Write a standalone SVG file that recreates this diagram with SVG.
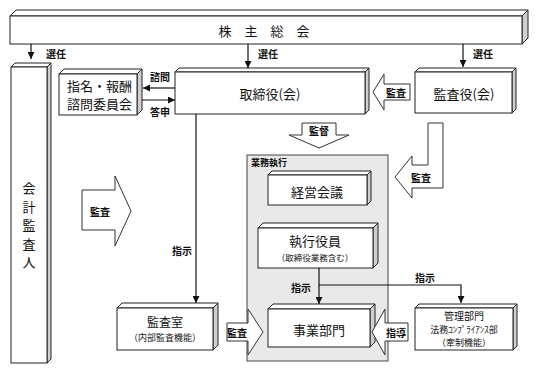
<svg xmlns="http://www.w3.org/2000/svg" width="547" height="372" viewBox="0 0 547 372">
<defs>
<style>
text{font-family:"Noto Sans CJK JP","Noto Sans",sans-serif;fill:#111;}
.t13{font-size:13px;}
.t12{font-size:12px;}
.t9{font-size:9px;}
.lab{font-size:10px;font-weight:bold;}
.front{fill:#fff;stroke:#222;stroke-width:1;}
.top{fill:#fff;stroke:#222;stroke-width:1;stroke-linejoin:round;}
.side{fill:#cfcfcf;stroke:#222;stroke-width:1;stroke-linejoin:round;}
.ln{fill:none;stroke:#111;stroke-width:1.2;}
.blk{fill:#fff;stroke:#333;stroke-width:1;stroke-linejoin:miter;}
.grp{fill:#e9e9e9;stroke:#444;stroke-width:1;}
</style>
<marker id="ah" viewBox="0 0 10 10" refX="10" refY="5" markerWidth="7" markerHeight="7" markerUnits="userSpaceOnUse" orient="auto">
<path d="M0,0 L10,5 L0,10 Z" fill="#111"/>
</marker>
</defs>

<g id="gyomu-shikko">
<rect class="grp" x="247" y="155" width="141" height="206"/>
<text class="lab" x="251" y="162" dominant-baseline="central" style="font-size:9px">業務執行</text>
</g>

<g id="kabunushi-sokai">
<path class="top" d="M10,16 L16,10 L528,10 L522,16 Z"/>
<path class="side" d="M522,16 L528,10 L528,38 L522,44 Z"/>
<rect class="front" x="10" y="16" width="512" height="28"/>
<text class="t13" y="30" dominant-baseline="central" text-anchor="middle"><tspan x="225">株</tspan><tspan x="251">主</tspan><tspan x="277">総</tspan><tspan x="303">会</tspan></text>
</g>

<g id="kaikei-kansanin">
<path class="top" d="M11,67 L15,63 L51,63 L47,67 Z"/>
<path class="side" d="M47,67 L51,63 L51,359 L47,363 Z"/>
<rect class="front" x="11" y="67" width="36" height="296"/>
<text class="t13" text-anchor="middle" dominant-baseline="central"><tspan x="29" y="187">会</tspan><tspan x="29" y="205.5">計</tspan><tspan x="29" y="224">監</tspan><tspan x="29" y="242.5">査</tspan><tspan x="29" y="261">人</tspan></text>
</g>

<g id="iinkai">
<path class="top" d="M59,74 L64,69 L142,69 L137,74 Z"/>
<path class="side" d="M137,74 L142,69 L142,110 L137,115 Z"/>
<rect class="front" x="59" y="74" width="78" height="41"/>
<text class="t13" x="67" y="85.5" dominant-baseline="central">指名・報酬</text>
<text class="t13" x="67" y="103.5" dominant-baseline="central">諮問委員会</text>
</g>

<g id="torishimariyaku">
<path class="top" d="M175,72 L179,68 L369,68 L365,72 Z"/>
<path class="side" d="M365,72 L369,68 L369,110 L365,114 Z"/>
<rect class="front" x="175" y="72" width="190" height="42"/>
<text class="t13" x="270" y="93" text-anchor="middle" dominant-baseline="central">取締役(会)</text>
</g>

<g id="kansayaku">
<path class="top" d="M415,72 L419,68 L516,68 L512,72 Z"/>
<path class="side" d="M512,72 L516,68 L516,109 L512,113 Z"/>
<rect class="front" x="415" y="72" width="97" height="41"/>
<text class="t13" x="464" y="93" text-anchor="middle" dominant-baseline="central">監査役(会)</text>
</g>

<g id="keiei-kaigi">
<path class="top" d="M268,175 L272,171 L371,171 L367,175 Z"/>
<path class="side" d="M367,175 L371,171 L371,201 L367,205 Z"/>
<rect class="front" x="268" y="175" width="99" height="30"/>
<text class="t13" x="317" y="191" text-anchor="middle" dominant-baseline="central">経営会議</text>
</g>

<g id="shikko-yakuin">
<path class="top" d="M258,228 L263,223 L378,223 L373,228 Z"/>
<path class="side" d="M373,228 L378,223 L378,263 L373,268 Z"/>
<rect class="front" x="258" y="228" width="115" height="40"/>
<text class="t13" x="315" y="240.5" text-anchor="middle" dominant-baseline="central">執行役員</text>
<text x="315" y="256.5" text-anchor="middle" dominant-baseline="central" style="font-size:8.5px">（取締役業務含む）</text>
</g>

<g id="jigyo-bumon">
<path class="top" d="M268,309 L273,304 L375,304 L370,309 Z"/>
<path class="side" d="M370,309 L375,304 L375,342 L370,347 Z"/>
<rect class="front" x="268" y="309" width="102" height="38"/>
<text class="t13" x="319" y="329" text-anchor="middle" dominant-baseline="central">事業部門</text>
</g>

<g id="kanri-bumon">
<path class="top" d="M415,308 L419,304 L517,304 L513,308 Z"/>
<path class="side" d="M513,308 L517,304 L517,346 L513,350 Z"/>
<rect class="front" x="415" y="308" width="98" height="42"/>
<text x="464" y="315.5" text-anchor="middle" dominant-baseline="central" style="font-size:10px">管理部門</text>
<text x="464" y="329" text-anchor="middle" dominant-baseline="central" style="font-size:9px">法務ｺﾝﾌﾟﾗｲｱﾝｽ部</text>
<text x="464" y="342" text-anchor="middle" dominant-baseline="central" style="font-size:9px">（牽制機能）</text>
</g>

<g id="kansashitsu">
<path class="top" d="M117,308 L122,303 L218,303 L213,308 Z"/>
<path class="side" d="M213,308 L218,303 L218,345 L213,350 Z"/>
<rect class="front" x="117" y="308" width="96" height="42"/>
<text class="t12" x="165" y="321" text-anchor="middle" dominant-baseline="central">監査室</text>
<text class="t9" x="165" y="337" text-anchor="middle" dominant-baseline="central">（内部監査機能）</text>
</g>

<g id="connectors">
<line class="ln" x1="31" y1="44" x2="31" y2="59" marker-end="url(#ah)"/>
<line class="ln" x1="248" y1="44" x2="248" y2="68" marker-end="url(#ah)"/>
<line class="ln" x1="463" y1="44" x2="463" y2="67" marker-end="url(#ah)"/>
<line class="ln" x1="175" y1="88" x2="143" y2="88" marker-end="url(#ah)"/>
<line class="ln" x1="142" y1="100" x2="175" y2="100" marker-end="url(#ah)"/>
<line class="ln" x1="196" y1="114" x2="196" y2="303" marker-end="url(#ah)"/>
<line class="ln" x1="319" y1="268" x2="319" y2="304" marker-end="url(#ah)"/>
<polyline class="ln" points="319,285 461,285 461,303" marker-end="url(#ah)"/>

<path class="blk" d="M373,92 L384,74 L384,84 L410,84 L410,100 L384,100 L384,110 Z"/>
<path class="blk" d="M302,123 L336,123 L336,135 L349,135 L319,148 L289,135 L302,135 Z"/>
<path class="blk" d="M428,123 L443,123 L443,188 L412,188 L412,198 L395,177 L412,156 L412,165 L428,165 Z"/>
<path class="blk" d="M82,190 L115,190 L115,176 L131,211 L115,246 L115,230 L82,230 Z"/>
<path class="blk" d="M227,323 L248,323 L248,309 L263,332 L248,355 L248,341 L227,341 Z"/>
<path class="blk" d="M408,323 L385,323 L385,309 L372,332 L385,355 L385,341 L408,341 Z"/>

<text class="lab" x="46" y="53" dominant-baseline="central">選任</text>
<text class="lab" x="258" y="53" dominant-baseline="central">選任</text>
<text class="lab" x="473" y="53" dominant-baseline="central">選任</text>
<text class="lab" x="150" y="76" dominant-baseline="central">諮問</text>
<text class="lab" x="150" y="111" dominant-baseline="central">答申</text>
<text class="lab" x="396" y="92" text-anchor="middle" dominant-baseline="central">監査</text>
<text class="lab" x="319" y="130" text-anchor="middle" dominant-baseline="central">監督</text>
<text class="lab" x="421" y="177" text-anchor="middle" dominant-baseline="central">監査</text>
<text class="lab" x="100" y="211" text-anchor="middle" dominant-baseline="central">監査</text>
<text class="lab" x="182" y="250" text-anchor="middle" dominant-baseline="central">指示</text>
<text class="lab" x="301" y="287" text-anchor="middle" dominant-baseline="central">指示</text>
<text class="lab" x="425" y="277" text-anchor="middle" dominant-baseline="central">指示</text>
<text class="lab" x="237" y="332" text-anchor="middle" dominant-baseline="central">監査</text>
<text class="lab" x="396" y="332" text-anchor="middle" dominant-baseline="central">指導</text>
</g>
</svg>
